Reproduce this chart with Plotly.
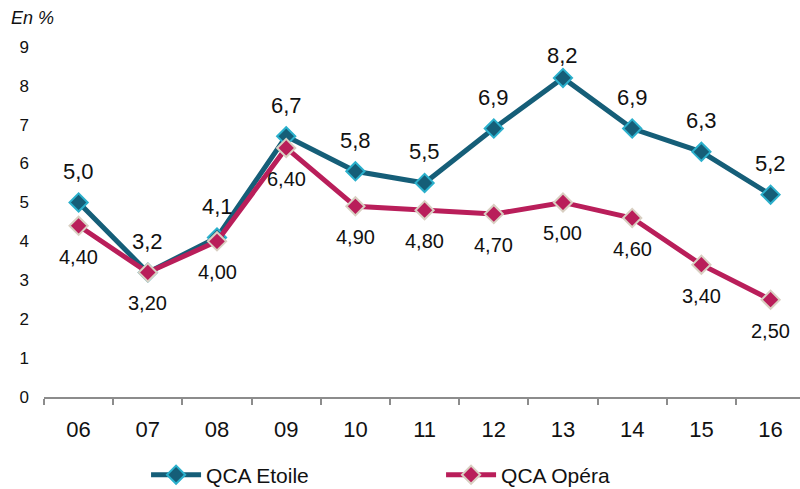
import plotly.graph_objects as go

years = ["06", "07", "08", "09", "10", "11", "12", "13", "14", "15", "16"]
etoile = [5.0, 3.2, 4.1, 6.7, 5.8, 5.5, 6.9, 8.2, 6.9, 6.3, 5.2]
opera = [4.40, 3.20, 4.00, 6.40, 4.90, 4.80, 4.70, 5.00, 4.60, 3.40, 2.50]
y_ticks = list(range(0, 10))

FONT = "Liberation Sans, Arial, sans-serif"


def fr(v, d):
    return f"{v:.{d}f}".replace(".", ",")


fig = go.Figure()
fig.add_trace(go.Scatter(
    x=years, y=etoile, name="QCA Etoile",
    mode="lines+markers",
    line=dict(color="#155E78", width=5),
    marker=dict(symbol="diamond", size=14, color="#155E78",
                line=dict(color="#2BB0CC", width=2)),
))
fig.add_trace(go.Scatter(
    x=years, y=opera, name="QCA Opéra",
    mode="lines+markers",
    line=dict(color="#B91E5A", width=5),
    marker=dict(symbol="diamond", size=14, color="#B91E5A",
                line=dict(color="#D9CFC2", width=2)),
))

# value labels: Etoile above its points, Opéra below
# (annotations use the category index so "06" is not read as a number)
labels = []
peak = max(etoile)
for i, v in enumerate(etoile):
    labels.append(dict(x=i, y=v, text=fr(v, 1), showarrow=False,
                       yshift=22 if v == peak else 31, xanchor="center", yanchor="middle",
                       font=dict(family=FONT, size=22, color="#111111")))
for i, v in enumerate(opera):
    labels.append(dict(x=i, y=v, text=fr(v, 2), showarrow=False,
                       yshift=-31, xanchor="center", yanchor="middle",
                       font=dict(family=FONT, size=20, color="#111111")))

labels.append(dict(text="<i>En %</i>", xref="paper", yref="paper", x=-0.046, y=1.06,
                   xanchor="left", yanchor="middle", showarrow=False,
                   font=dict(family=FONT, size=18, color="#111111")))

fig.update_layout(
    width=800, height=489,
    margin=dict(l=44, r=0, t=39, b=92, autoexpand=False),
    paper_bgcolor="white", plot_bgcolor="white",
    font=dict(family=FONT, color="#111111"),
    showlegend=True,
    legend=dict(orientation="h", x=0.135, xanchor="left", y=-0.218, yanchor="middle",
                font=dict(family=FONT, size=21), itemwidth=50,
                entrywidth=230, entrywidthmode="pixels",
                bgcolor="rgba(0,0,0,0)"),
    annotations=labels,
)
fig.update_xaxes(
    type="category", range=[-0.5, 10.425],
    showline=True, linecolor="#8C8C8C", linewidth=2,
    ticks="outside", tickson="boundaries", ticklen=6, tickwidth=2, tickcolor="#8C8C8C",
    showgrid=False, zeroline=False,
    ticklabelstandoff=12,
    tickfont=dict(family=FONT, size=22, color="#111111"),
)
fig.update_yaxes(
    range=[0, 9.2], tickvals=y_ticks,
    showline=False, showgrid=False, zeroline=False, ticks="",
    ticklabelstandoff=14,
    tickfont=dict(family=FONT, size=17, color="#111111"),
)

fig.write_html("out.html")
